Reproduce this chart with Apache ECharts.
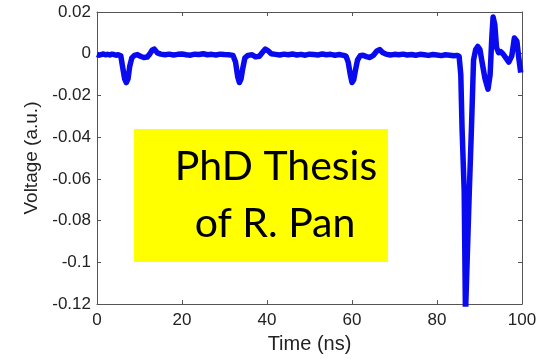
<!DOCTYPE html>
<html>
<head>
<meta charset="utf-8">
<script src="https://cdn.jsdelivr.net/npm/echarts@6/dist/echarts.min.js"></script>
<style>
html,body{margin:0;padding:0;background:#fff;}
#chart{width:551px;height:359px;}
</style>
</head>
<body>
<div id="chart"></div>
<script>
// Data
var timeNs = [0,0.5,1,1.5,2,2.5,3,3.5,4,4.5,5,5.6,6.0,6.5,6.9,7.3,7.7,8.2,8.8,9.5,10.2,11,11.8,12.4,13.0,13.5,14.2,15,16,17,18,19,20,21,22,23,24,25,26,27,28,29,30,31,32,32.6,33.1,33.5,33.9,34.3,34.8,35.5,36.5,37.3,38.2,39,39.6,40.2,41,42,43,44,45,46,47,48,49,50,51,52,53,54,55,56,57,58,58.6,59.1,59.6,60.0,60.4,60.8,61.3,61.9,62.6,63.4,64.2,65.0,65.8,66.5,67.2,68,69,70,71,72,73,74,75,76,77,78,79,80,81,82,83,84,84.7,85.2,85.6,85.9,86.4,86.7,87.1,87.6,88.1,88.6,89.1,89.6,90.1,90.6,91.3,92.0,92.5,92.9,93.2,93.6,94.0,94.5,95.0,95.5,96.2,96.9,97.6,98.2,98.8,99.3,99.7,100];
var voltage = [-0.0003,-0.0007,-0.0004,-0.0001,-0.0005,-0.0003,-0.0006,-0.0002,-0.0004,-0.0007,-0.0005,-0.001,-0.006,-0.012,-0.0138,-0.012,-0.006,-0.002,-0.0008,-0.0004,-0.0012,-0.0018,-0.0016,-0.0002,0.0018,0.0022,0.0004,-0.0002,-0.0005,-0.0002,-0.0006,-0.0003,-0.0001,-0.0005,-0.0007,-0.0002,-0.0004,0.0000,-0.0005,-0.0003,-0.0006,-0.0002,-0.0004,-0.0005,-0.0008,-0.004,-0.011,-0.0138,-0.012,-0.007,-0.002,-0.0008,-0.0005,-0.0015,-0.0012,0.0008,0.0022,0.0015,0.0000,-0.0003,-0.0006,-0.0002,-0.0005,-0.0001,-0.0006,-0.0003,-0.0007,-0.0002,-0.0004,-0.0006,-0.0001,-0.0005,-0.0003,-0.0007,-0.0004,-0.0008,-0.0012,-0.004,-0.010,-0.0138,-0.0125,-0.008,-0.003,-0.001,-0.0007,-0.0014,-0.0018,-0.0008,0.0012,0.0020,0.0006,-0.0002,-0.0006,-0.0003,-0.0005,-0.0002,-0.0006,-0.0004,-0.0007,-0.0003,-0.0005,-0.0008,-0.0004,-0.0006,-0.0009,-0.0005,-0.0007,-0.0010,-0.0008,-0.0012,-0.010,-0.036,-0.066,-0.125,-0.125,-0.066,-0.036,-0.003,0.002,0.0035,0.002,-0.004,-0.012,-0.017,-0.010,0.008,0.0176,0.014,0.003,0.0005,0.001,0.0,-0.002,-0.004,-0.001,0.0075,0.006,-0.003,-0.009];

var xMin = 0, xMax = 100, xStep = 20;
var yMin = -0.12, yMax = 0.02, yStep = 0.02;
var xTickLabels = ['0','20','40','60','80','100'];
var yTickLabels = ['-0.12','-0.1','-0.08','-0.06','-0.04','-0.02','0','0.02'];

var points = timeNs.map(function(t,i){ return [t, voltage[i]]; });

var chart = echarts.init(document.getElementById('chart'), null, {renderer:'canvas'});
var axisColor = '#555';
var labelStyle = {fontFamily:'Liberation Sans, Arial, sans-serif', fontSize:17, color:'#222'};

chart.setOption({
  animation:false,
  backgroundColor:'#fff',
  grid:{left:97, right:29, top:12, bottom:51, containLabel:false},
  xAxis:[{
    type:'value', min:xMin, max:xMax, interval:xStep, position:'bottom',
    name:'Time (ns)', nameLocation:'middle', nameGap:28,
    nameTextStyle:{fontFamily:'Liberation Sans, Arial, sans-serif', fontSize:20, color:'#222'},
    axisLine:{show:true, onZero:false, lineStyle:{color:axisColor, width:1}},
    axisTick:{show:true, inside:true, length:4, lineStyle:{color:axisColor}},
    axisLabel:Object.assign({margin:8, formatter:function(v){return xTickLabels[Math.round((v-xMin)/xStep)];}}, labelStyle),
    splitLine:{show:false}
  },{
    type:'value', min:xMin, max:xMax, interval:xStep, position:'top',
    axisLine:{show:true, onZero:false, lineStyle:{color:axisColor, width:1}},
    axisTick:{show:true, inside:true, length:4, lineStyle:{color:axisColor}},
    axisLabel:{show:false}, splitLine:{show:false}
  }],
  yAxis:[{
    type:'value', min:yMin, max:yMax, interval:yStep, position:'left',
    name:'Voltage (a.u.)', nameLocation:'middle', nameGap:53, nameRotate:90,
    nameTextStyle:{fontFamily:'Liberation Sans, Arial, sans-serif', fontSize:19, color:'#222'},
    axisLine:{show:true, onZero:false, lineStyle:{color:axisColor, width:1}},
    axisTick:{show:true, inside:true, length:4, lineStyle:{color:axisColor}},
    axisLabel:Object.assign({margin:6, formatter:function(v){return yTickLabels[Math.round((v-yMin)/yStep)];}}, labelStyle),
    splitLine:{show:false}
  },{
    type:'value', min:yMin, max:yMax, interval:yStep, position:'right',
    axisLine:{show:true, onZero:false, lineStyle:{color:axisColor, width:1}},
    axisTick:{show:true, inside:true, length:4, lineStyle:{color:axisColor}},
    axisLabel:{show:false}, splitLine:{show:false}
  }],
  series:[{
    type:'line', xAxisIndex:0, yAxisIndex:0, data:points,
    showSymbol:false, symbol:'none', clip:true,
    lineStyle:{color:'#0a0aee', width:5.5, join:'round'}
  }],
  graphic:[
    {type:'rect', left:134, top:129, shape:{width:254, height:133}, style:{fill:'#ffff00'}, z:100},
    {type:'text', x:276, y:167, style:{text:'PhD Thesis', font:'41px Lato, "Open Sans", sans-serif', fill:'#000', textAlign:'center', textVerticalAlign:'middle'}, z:101},
    {type:'text', x:275, y:224, style:{text:'of R. Pan', font:'41px Lato, "Open Sans", sans-serif', fill:'#000', textAlign:'center', textVerticalAlign:'middle'}, z:101}
  ]
});
</script>
</body>
</html>
